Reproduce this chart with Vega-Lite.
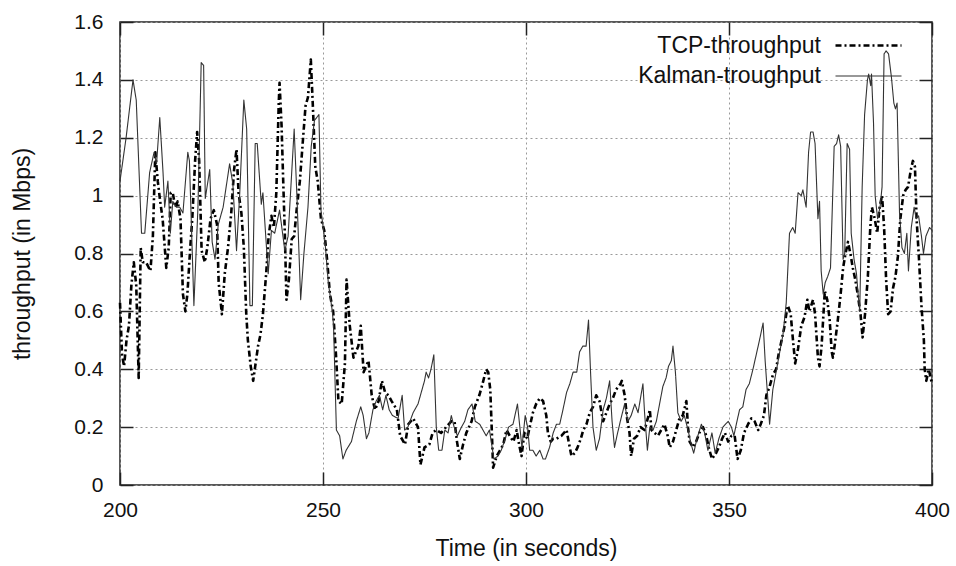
{
"$schema":"https://vega.github.io/schema/vega-lite/v6.json",
"width":812,"height":463,
"autosize":{"type":"none"},
"padding":{"left":120,"top":22,"right":24,"bottom":81},
"background":"white",
"config":{
"view":{"stroke":"#222","strokeWidth":1.5},
"font":"Liberation Sans",
"axis":{"labelFont":"Liberation Sans","titleFont":"Liberation Sans","labelFontSize":21,"titleFontSize":23,"titleFontWeight":"normal","labelColor":"#111","titleColor":"#111","domain":false,"tickColor":"#222","tickWidth":1.5,"gridColor":"#999","gridDash":[2,3],"gridWidth":1,"gridOpacity":1,"labelFlush":false},
"legend":{"orient":"none","legendX":732,"legendY":7,"title":null,"symbolType":"M-3,0H3","symbolSize":484,"labelOffset":-60,"labelAlign":"right","labelFontSize":23,"labelFont":"Liberation Sans","labelColor":"#111","labelLimit":300,"rowPadding":6,"padding":4}
},
"datasets":{"d":[
{"s":"K","t":200,"v":1.05},{"s":"K","t":201.5,"v":1.2},{"s":"K","t":203.2,"v":1.4},{"s":"K","t":204,"v":1.33},{"s":"K","t":205.3,"v":0.87},{"s":"K","t":206.1,"v":0.87},{"s":"K","t":207.3,"v":1.08},{"s":"K","t":208.4,"v":1.15},{"s":"K","t":209,"v":1.11},{"s":"K","t":209.8,"v":1.27},{"s":"K","t":210.6,"v":1.08},{"s":"K","t":211,"v":0.96},{"s":"K","t":211.8,"v":1.05},{"s":"K","t":212.4,"v":0.87},{"s":"K","t":213,"v":0.98},{"s":"K","t":213.9,"v":0.96},{"s":"K","t":214.7,"v":0.96},{"s":"K","t":215.5,"v":0.94},{"s":"K","t":216.7,"v":1.15},{"s":"K","t":217.1,"v":1.12},{"s":"K","t":218.2,"v":0.62},{"s":"K","t":219.2,"v":0.96},{"s":"K","t":220,"v":1.46},{"s":"K","t":220.6,"v":1.45},{"s":"K","t":221,"v":0.99},{"s":"K","t":222.1,"v":1.09},{"s":"K","t":222.7,"v":0.84},{"s":"K","t":223.4,"v":0.78},{"s":"K","t":224.2,"v":0.9},{"s":"K","t":225.4,"v":0.96},{"s":"K","t":227,"v":1.11},{"s":"K","t":227.8,"v":1.04},{"s":"K","t":228.7,"v":0.81},{"s":"K","t":229.5,"v":1.01},{"s":"K","t":230.5,"v":1.33},{"s":"K","t":231.2,"v":1.23},{"s":"K","t":232,"v":0.62},{"s":"K","t":232.6,"v":0.62},{"s":"K","t":233.3,"v":1.18},{"s":"K","t":233.8,"v":1.18},{"s":"K","t":234.8,"v":0.97},{"s":"K","t":235.2,"v":1.01},{"s":"K","t":236.5,"v":0.73},{"s":"K","t":237.3,"v":0.88},{"s":"K","t":238.1,"v":0.87},{"s":"K","t":239.3,"v":0.95},{"s":"K","t":240.6,"v":0.81},{"s":"K","t":241.4,"v":0.86},{"s":"K","t":242.9,"v":1.23},{"s":"K","t":243.6,"v":0.99},{"s":"K","t":244.5,"v":0.64},{"s":"K","t":245.3,"v":0.8},{"s":"K","t":246.3,"v":0.96},{"s":"K","t":247.1,"v":1.17},{"s":"K","t":247.9,"v":1.26},{"s":"K","t":249,"v":1.28},{"s":"K","t":249.5,"v":0.95},{"s":"K","t":250.5,"v":0.84},{"s":"K","t":251.3,"v":0.7},{"s":"K","t":252.3,"v":0.6},{"s":"K","t":252.6,"v":0.55},{"s":"K","t":253.3,"v":0.19},{"s":"K","t":254.1,"v":0.17},{"s":"K","t":254.9,"v":0.09},{"s":"K","t":255.7,"v":0.12},{"s":"K","t":257,"v":0.15},{"s":"K","t":258.2,"v":0.22},{"s":"K","t":259.3,"v":0.27},{"s":"K","t":259.9,"v":0.24},{"s":"K","t":260.7,"v":0.16},{"s":"K","t":261.3,"v":0.18},{"s":"K","t":262.3,"v":0.26},{"s":"K","t":263.1,"v":0.29},{"s":"K","t":263.9,"v":0.31},{"s":"K","t":264.7,"v":0.26},{"s":"K","t":265.5,"v":0.31},{"s":"K","t":266.3,"v":0.26},{"s":"K","t":267.1,"v":0.24},{"s":"K","t":268.5,"v":0.23},{"s":"K","t":269.5,"v":0.31},{"s":"K","t":270.1,"v":0.19},{"s":"K","t":270.9,"v":0.2},{"s":"K","t":272.2,"v":0.25},{"s":"K","t":273.4,"v":0.28},{"s":"K","t":274.2,"v":0.32},{"s":"K","t":275,"v":0.36},{"s":"K","t":275.4,"v":0.39},{"s":"K","t":276,"v":0.37},{"s":"K","t":276.6,"v":0.4},{"s":"K","t":277.3,"v":0.45},{"s":"K","t":277.9,"v":0.2},{"s":"K","t":278.5,"v":0.12},{"s":"K","t":279.3,"v":0.12},{"s":"K","t":280,"v":0.19},{"s":"K","t":280.8,"v":0.18},{"s":"K","t":281.6,"v":0.24},{"s":"K","t":282.3,"v":0.2},{"s":"K","t":283.1,"v":0.17},{"s":"K","t":284.1,"v":0.2},{"s":"K","t":284.9,"v":0.22},{"s":"K","t":285.7,"v":0.26},{"s":"K","t":286.7,"v":0.28},{"s":"K","t":287.5,"v":0.22},{"s":"K","t":288.6,"v":0.21},{"s":"K","t":289.4,"v":0.19},{"s":"K","t":290.2,"v":0.17},{"s":"K","t":291,"v":0.19},{"s":"K","t":292.1,"v":0.09},{"s":"K","t":293.1,"v":0.1},{"s":"K","t":293.9,"v":0.12},{"s":"K","t":294.9,"v":0.16},{"s":"K","t":295.7,"v":0.2},{"s":"K","t":296.8,"v":0.21},{"s":"K","t":297.9,"v":0.28},{"s":"K","t":299,"v":0.13},{"s":"K","t":299.8,"v":0.24},{"s":"K","t":300.4,"v":0.2},{"s":"K","t":300.9,"v":0.12},{"s":"K","t":301.7,"v":0.12},{"s":"K","t":302.5,"v":0.1},{"s":"K","t":303.4,"v":0.12},{"s":"K","t":304.2,"v":0.09},{"s":"K","t":304.8,"v":0.09},{"s":"K","t":305.8,"v":0.13},{"s":"K","t":306.7,"v":0.18},{"s":"K","t":307.5,"v":0.21},{"s":"K","t":308.3,"v":0.21},{"s":"K","t":309.1,"v":0.26},{"s":"K","t":310,"v":0.32},{"s":"K","t":310.8,"v":0.35},{"s":"K","t":311.6,"v":0.39},{"s":"K","t":312.5,"v":0.39},{"s":"K","t":313.2,"v":0.46},{"s":"K","t":314,"v":0.48},{"s":"K","t":314.8,"v":0.48},{"s":"K","t":315.4,"v":0.57},{"s":"K","t":315.9,"v":0.39},{"s":"K","t":316.5,"v":0.2},{"s":"K","t":317.3,"v":0.12},{"s":"K","t":318.1,"v":0.16},{"s":"K","t":319,"v":0.26},{"s":"K","t":319.8,"v":0.3},{"s":"K","t":320.6,"v":0.36},{"s":"K","t":321.2,"v":0.22},{"s":"K","t":321.8,"v":0.13},{"s":"K","t":322.4,"v":0.17},{"s":"K","t":323.4,"v":0.23},{"s":"K","t":324.3,"v":0.28},{"s":"K","t":325.1,"v":0.22},{"s":"K","t":325.9,"v":0.24},{"s":"K","t":326.8,"v":0.28},{"s":"K","t":327.6,"v":0.25},{"s":"K","t":328.8,"v":0.35},{"s":"K","t":329.2,"v":0.25},{"s":"K","t":329.9,"v":0.12},{"s":"K","t":330.5,"v":0.2},{"s":"K","t":331.3,"v":0.19},{"s":"K","t":332.1,"v":0.22},{"s":"K","t":332.9,"v":0.28},{"s":"K","t":333.7,"v":0.34},{"s":"K","t":334.5,"v":0.37},{"s":"K","t":335.1,"v":0.41},{"s":"K","t":335.8,"v":0.43},{"s":"K","t":336.2,"v":0.48},{"s":"K","t":336.8,"v":0.39},{"s":"K","t":337.4,"v":0.25},{"s":"K","t":338.2,"v":0.22},{"s":"K","t":339,"v":0.24},{"s":"K","t":339.9,"v":0.19},{"s":"K","t":340.7,"v":0.14},{"s":"K","t":341.3,"v":0.11},{"s":"K","t":342.1,"v":0.16},{"s":"K","t":343.2,"v":0.21},{"s":"K","t":344,"v":0.18},{"s":"K","t":344.8,"v":0.12},{"s":"K","t":345.8,"v":0.18},{"s":"K","t":346.6,"v":0.11},{"s":"K","t":347.5,"v":0.16},{"s":"K","t":348.5,"v":0.2},{"s":"K","t":349.8,"v":0.22},{"s":"K","t":350.6,"v":0.2},{"s":"K","t":351.2,"v":0.17},{"s":"K","t":351.8,"v":0.21},{"s":"K","t":352.6,"v":0.26},{"s":"K","t":353.4,"v":0.27},{"s":"K","t":354.2,"v":0.33},{"s":"K","t":355,"v":0.35},{"s":"K","t":355.9,"v":0.4},{"s":"K","t":356.7,"v":0.45},{"s":"K","t":357.5,"v":0.5},{"s":"K","t":358.4,"v":0.56},{"s":"K","t":358.9,"v":0.43},{"s":"K","t":359.6,"v":0.29},{"s":"K","t":360,"v":0.21},{"s":"K","t":360.8,"v":0.33},{"s":"K","t":361.6,"v":0.39},{"s":"K","t":362.5,"v":0.46},{"s":"K","t":363.3,"v":0.52},{"s":"K","t":364.1,"v":0.63},{"s":"K","t":364.9,"v":0.87},{"s":"K","t":365.7,"v":0.89},{"s":"K","t":366.3,"v":0.87},{"s":"K","t":367,"v":1.01},{"s":"K","t":367.8,"v":1},{"s":"K","t":368.2,"v":1.02},{"s":"K","t":369,"v":0.96},{"s":"K","t":369.6,"v":1.15},{"s":"K","t":370.1,"v":1.22},{"s":"K","t":370.7,"v":1.22},{"s":"K","t":371.2,"v":1.18},{"s":"K","t":371.9,"v":0.92},{"s":"K","t":372.3,"v":0.98},{"s":"K","t":372.7,"v":0.74},{"s":"K","t":373.2,"v":0.66},{"s":"K","t":373.7,"v":0.7},{"s":"K","t":374.3,"v":0.72},{"s":"K","t":375,"v":0.75},{"s":"K","t":375.9,"v":1.17},{"s":"K","t":376.5,"v":1.18},{"s":"K","t":377,"v":1.21},{"s":"K","t":377.5,"v":1.17},{"s":"K","t":378.1,"v":0.78},{"s":"K","t":378.5,"v":0.8},{"s":"K","t":379.1,"v":1.18},{"s":"K","t":379.7,"v":1.16},{"s":"K","t":380.1,"v":0.87},{"s":"K","t":380.8,"v":0.78},{"s":"K","t":381.4,"v":0.73},{"s":"K","t":381.8,"v":0.66},{"s":"K","t":382.2,"v":0.6},{"s":"K","t":382.8,"v":1.03},{"s":"K","t":383.4,"v":1.28},{"s":"K","t":384.1,"v":1.4},{"s":"K","t":384.4,"v":1.42},{"s":"K","t":384.9,"v":1.38},{"s":"K","t":385.1,"v":1.42},{"s":"K","t":385.6,"v":1.25},{"s":"K","t":386,"v":1},{"s":"K","t":386.6,"v":0.92},{"s":"K","t":387.2,"v":0.96},{"s":"K","t":387.7,"v":1.03},{"s":"K","t":388.2,"v":1.49},{"s":"K","t":388.7,"v":1.5},{"s":"K","t":389.3,"v":1.49},{"s":"K","t":390,"v":1.41},{"s":"K","t":390.6,"v":1.32},{"s":"K","t":391,"v":1.3},{"s":"K","t":391.4,"v":1.32},{"s":"K","t":392,"v":0.94},{"s":"K","t":392.6,"v":0.82},{"s":"K","t":393.2,"v":0.8},{"s":"K","t":393.8,"v":0.87},{"s":"K","t":394.2,"v":0.74},{"s":"K","t":394.9,"v":0.89},{"s":"K","t":395.6,"v":0.96},{"s":"K","t":396.1,"v":0.92},{"s":"K","t":396.7,"v":0.93},{"s":"K","t":397.4,"v":0.86},{"s":"K","t":397.9,"v":0.8},{"s":"K","t":398.5,"v":0.86},{"s":"K","t":399.4,"v":0.89},{"s":"K","t":400,"v":0.88},
{"s":"T","t":200,"v":0.63},{"s":"T","t":200.5,"v":0.45},{"s":"T","t":201,"v":0.41},{"s":"T","t":201.6,"v":0.5},{"s":"T","t":202.2,"v":0.55},{"s":"T","t":202.8,"v":0.69},{"s":"T","t":203.4,"v":0.77},{"s":"T","t":204,"v":0.69},{"s":"T","t":204.6,"v":0.37},{"s":"T","t":205.1,"v":0.82},{"s":"T","t":205.6,"v":0.77},{"s":"T","t":206.4,"v":0.77},{"s":"T","t":207.5,"v":0.74},{"s":"T","t":208.1,"v":0.86},{"s":"T","t":208.7,"v":1.15},{"s":"T","t":209.3,"v":1.05},{"s":"T","t":209.9,"v":0.98},{"s":"T","t":210.5,"v":0.92},{"s":"T","t":211.4,"v":0.75},{"s":"T","t":212,"v":0.82},{"s":"T","t":212.5,"v":1.01},{"s":"T","t":213,"v":1.01},{"s":"T","t":213.6,"v":0.96},{"s":"T","t":214.2,"v":0.98},{"s":"T","t":214.9,"v":0.92},{"s":"T","t":215.5,"v":0.66},{"s":"T","t":216.1,"v":0.6},{"s":"T","t":216.6,"v":0.66},{"s":"T","t":217.3,"v":0.82},{"s":"T","t":217.8,"v":0.92},{"s":"T","t":218.5,"v":1.12},{"s":"T","t":219,"v":1.22},{"s":"T","t":219.5,"v":1.12},{"s":"T","t":220.1,"v":0.81},{"s":"T","t":220.9,"v":0.77},{"s":"T","t":221.5,"v":0.82},{"s":"T","t":222.3,"v":0.92},{"s":"T","t":223.1,"v":0.95},{"s":"T","t":223.9,"v":0.9},{"s":"T","t":224.3,"v":0.7},{"s":"T","t":225.1,"v":0.59},{"s":"T","t":225.8,"v":0.73},{"s":"T","t":226.6,"v":0.82},{"s":"T","t":227.4,"v":0.94},{"s":"T","t":228.1,"v":1.09},{"s":"T","t":228.7,"v":1.16},{"s":"T","t":229.2,"v":1.01},{"s":"T","t":229.9,"v":0.94},{"s":"T","t":230.5,"v":0.82},{"s":"T","t":231.1,"v":0.59},{"s":"T","t":231.5,"v":0.5},{"s":"T","t":232.2,"v":0.41},{"s":"T","t":232.8,"v":0.36},{"s":"T","t":233.3,"v":0.41},{"s":"T","t":234,"v":0.48},{"s":"T","t":234.6,"v":0.52},{"s":"T","t":235.2,"v":0.59},{"s":"T","t":236,"v":0.73},{"s":"T","t":236.6,"v":0.86},{"s":"T","t":237.3,"v":0.93},{"s":"T","t":237.9,"v":0.89},{"s":"T","t":238.5,"v":1.01},{"s":"T","t":239.1,"v":1.32},{"s":"T","t":239.3,"v":1.39},{"s":"T","t":239.8,"v":1.24},{"s":"T","t":240.2,"v":1.05},{"s":"T","t":240.6,"v":0.87},{"s":"T","t":241,"v":0.64},{"s":"T","t":241.6,"v":0.71},{"s":"T","t":242.3,"v":0.85},{"s":"T","t":242.9,"v":0.86},{"s":"T","t":243.5,"v":0.95},{"s":"T","t":244.3,"v":1.05},{"s":"T","t":245.1,"v":1.2},{"s":"T","t":245.7,"v":1.31},{"s":"T","t":246.3,"v":1.34},{"s":"T","t":247,"v":1.47},{"s":"T","t":247.5,"v":1.31},{"s":"T","t":248.1,"v":1.1},{"s":"T","t":248.7,"v":1.05},{"s":"T","t":249.5,"v":0.92},{"s":"T","t":250.3,"v":0.88},{"s":"T","t":251,"v":0.78},{"s":"T","t":251.7,"v":0.66},{"s":"T","t":252.5,"v":0.6},{"s":"T","t":253.2,"v":0.45},{"s":"T","t":253.8,"v":0.29},{"s":"T","t":254.6,"v":0.28},{"s":"T","t":255.4,"v":0.42},{"s":"T","t":255.8,"v":0.71},{"s":"T","t":256.6,"v":0.55},{"s":"T","t":257.5,"v":0.44},{"s":"T","t":258.7,"v":0.48},{"s":"T","t":259.3,"v":0.55},{"s":"T","t":260,"v":0.39},{"s":"T","t":261.2,"v":0.43},{"s":"T","t":262,"v":0.31},{"s":"T","t":262.8,"v":0.26},{"s":"T","t":263.7,"v":0.29},{"s":"T","t":264.5,"v":0.36},{"s":"T","t":265.3,"v":0.32},{"s":"T","t":266.1,"v":0.31},{"s":"T","t":266.9,"v":0.29},{"s":"T","t":268.2,"v":0.26},{"s":"T","t":269,"v":0.17},{"s":"T","t":270.2,"v":0.14},{"s":"T","t":271,"v":0.21},{"s":"T","t":272.2,"v":0.23},{"s":"T","t":273.4,"v":0.2},{"s":"T","t":274,"v":0.07},{"s":"T","t":275,"v":0.13},{"s":"T","t":276.2,"v":0.14},{"s":"T","t":277,"v":0.18},{"s":"T","t":277.9,"v":0.19},{"s":"T","t":279.1,"v":0.18},{"s":"T","t":280.3,"v":0.2},{"s":"T","t":281.6,"v":0.22},{"s":"T","t":282.4,"v":0.22},{"s":"T","t":283,"v":0.15},{"s":"T","t":283.7,"v":0.09},{"s":"T","t":284.5,"v":0.14},{"s":"T","t":285.3,"v":0.18},{"s":"T","t":286.6,"v":0.22},{"s":"T","t":287.4,"v":0.27},{"s":"T","t":288.5,"v":0.31},{"s":"T","t":289.3,"v":0.35},{"s":"T","t":290.2,"v":0.4},{"s":"T","t":290.7,"v":0.39},{"s":"T","t":291.2,"v":0.33},{"s":"T","t":291.6,"v":0.18},{"s":"T","t":291.9,"v":0.06},{"s":"T","t":292.8,"v":0.1},{"s":"T","t":293.6,"v":0.12},{"s":"T","t":294.4,"v":0.14},{"s":"T","t":295.2,"v":0.19},{"s":"T","t":296,"v":0.17},{"s":"T","t":296.9,"v":0.15},{"s":"T","t":297.7,"v":0.19},{"s":"T","t":298.3,"v":0.14},{"s":"T","t":298.9,"v":0.1},{"s":"T","t":299.6,"v":0.18},{"s":"T","t":300.3,"v":0.16},{"s":"T","t":300.9,"v":0.2},{"s":"T","t":301.7,"v":0.25},{"s":"T","t":302.5,"v":0.28},{"s":"T","t":303.4,"v":0.3},{"s":"T","t":304.2,"v":0.29},{"s":"T","t":305,"v":0.24},{"s":"T","t":305.4,"v":0.18},{"s":"T","t":306.1,"v":0.15},{"s":"T","t":306.7,"v":0.16},{"s":"T","t":307.5,"v":0.16},{"s":"T","t":308.7,"v":0.17},{"s":"T","t":310,"v":0.19},{"s":"T","t":310.5,"v":0.15},{"s":"T","t":311.2,"v":0.1},{"s":"T","t":312,"v":0.11},{"s":"T","t":312.7,"v":0.13},{"s":"T","t":313.5,"v":0.16},{"s":"T","t":314.1,"v":0.19},{"s":"T","t":314.9,"v":0.21},{"s":"T","t":315.7,"v":0.25},{"s":"T","t":316.5,"v":0.27},{"s":"T","t":317.3,"v":0.31},{"s":"T","t":318.1,"v":0.29},{"s":"T","t":319,"v":0.22},{"s":"T","t":319.8,"v":0.25},{"s":"T","t":320.6,"v":0.28},{"s":"T","t":321.4,"v":0.3},{"s":"T","t":322.2,"v":0.33},{"s":"T","t":323.3,"v":0.35},{"s":"T","t":323.6,"v":0.36},{"s":"T","t":324.3,"v":0.31},{"s":"T","t":324.9,"v":0.23},{"s":"T","t":325.5,"v":0.18},{"s":"T","t":325.9,"v":0.1},{"s":"T","t":326.6,"v":0.16},{"s":"T","t":327.4,"v":0.17},{"s":"T","t":328.2,"v":0.2},{"s":"T","t":329.2,"v":0.19},{"s":"T","t":330,"v":0.23},{"s":"T","t":330.5,"v":0.26},{"s":"T","t":330.9,"v":0.19},{"s":"T","t":331.7,"v":0.18},{"s":"T","t":332.5,"v":0.17},{"s":"T","t":333.3,"v":0.19},{"s":"T","t":334.1,"v":0.21},{"s":"T","t":334.9,"v":0.17},{"s":"T","t":335.4,"v":0.13},{"s":"T","t":336.2,"v":0.15},{"s":"T","t":337,"v":0.19},{"s":"T","t":337.8,"v":0.23},{"s":"T","t":338.6,"v":0.24},{"s":"T","t":339.5,"v":0.29},{"s":"T","t":339.9,"v":0.2},{"s":"T","t":340.3,"v":0.15},{"s":"T","t":341.1,"v":0.13},{"s":"T","t":341.9,"v":0.15},{"s":"T","t":342.7,"v":0.18},{"s":"T","t":343.6,"v":0.2},{"s":"T","t":344.4,"v":0.17},{"s":"T","t":345,"v":0.13},{"s":"T","t":345.8,"v":0.09},{"s":"T","t":346.8,"v":0.11},{"s":"T","t":347.5,"v":0.13},{"s":"T","t":348.3,"v":0.16},{"s":"T","t":349,"v":0.18},{"s":"T","t":349.8,"v":0.15},{"s":"T","t":350.6,"v":0.17},{"s":"T","t":351.4,"v":0.17},{"s":"T","t":352.1,"v":0.09},{"s":"T","t":352.9,"v":0.12},{"s":"T","t":353.7,"v":0.18},{"s":"T","t":354.7,"v":0.21},{"s":"T","t":355.5,"v":0.23},{"s":"T","t":356.3,"v":0.22},{"s":"T","t":357.2,"v":0.19},{"s":"T","t":357.8,"v":0.21},{"s":"T","t":358.6,"v":0.24},{"s":"T","t":359.2,"v":0.31},{"s":"T","t":360,"v":0.34},{"s":"T","t":360.8,"v":0.38},{"s":"T","t":361.6,"v":0.4},{"s":"T","t":362.2,"v":0.45},{"s":"T","t":363.1,"v":0.51},{"s":"T","t":363.7,"v":0.55},{"s":"T","t":364.1,"v":0.59},{"s":"T","t":364.5,"v":0.62},{"s":"T","t":365.2,"v":0.59},{"s":"T","t":365.7,"v":0.51},{"s":"T","t":366.3,"v":0.42},{"s":"T","t":367,"v":0.47},{"s":"T","t":367.8,"v":0.55},{"s":"T","t":368.6,"v":0.58},{"s":"T","t":369.3,"v":0.64},{"s":"T","t":369.8,"v":0.6},{"s":"T","t":370.7,"v":0.64},{"s":"T","t":371.2,"v":0.59},{"s":"T","t":371.9,"v":0.44},{"s":"T","t":372.3,"v":0.41},{"s":"T","t":372.8,"v":0.48},{"s":"T","t":373.6,"v":0.67},{"s":"T","t":374.2,"v":0.64},{"s":"T","t":374.8,"v":0.57},{"s":"T","t":375.3,"v":0.46},{"s":"T","t":375.6,"v":0.44},{"s":"T","t":376.1,"v":0.49},{"s":"T","t":376.8,"v":0.57},{"s":"T","t":377.5,"v":0.66},{"s":"T","t":378.1,"v":0.75},{"s":"T","t":378.7,"v":0.8},{"s":"T","t":379.3,"v":0.84},{"s":"T","t":379.9,"v":0.8},{"s":"T","t":380.5,"v":0.75},{"s":"T","t":381.1,"v":0.71},{"s":"T","t":381.7,"v":0.66},{"s":"T","t":382.4,"v":0.59},{"s":"T","t":382.9,"v":0.51},{"s":"T","t":383.5,"v":0.59},{"s":"T","t":384.2,"v":0.72},{"s":"T","t":384.8,"v":0.89},{"s":"T","t":385.2,"v":0.96},{"s":"T","t":385.9,"v":0.92},{"s":"T","t":386.5,"v":0.87},{"s":"T","t":387.1,"v":0.96},{"s":"T","t":387.7,"v":1},{"s":"T","t":388.2,"v":0.89},{"s":"T","t":388.7,"v":0.71},{"s":"T","t":389.2,"v":0.59},{"s":"T","t":389.8,"v":0.6},{"s":"T","t":390.4,"v":0.68},{"s":"T","t":391,"v":0.72},{"s":"T","t":391.6,"v":0.79},{"s":"T","t":392.2,"v":0.92},{"s":"T","t":392.9,"v":1},{"s":"T","t":393.5,"v":1.02},{"s":"T","t":394.1,"v":1.03},{"s":"T","t":394.8,"v":1.09},{"s":"T","t":395.3,"v":1.12},{"s":"T","t":395.8,"v":1.1},{"s":"T","t":396.2,"v":0.92},{"s":"T","t":396.8,"v":0.78},{"s":"T","t":397.4,"v":0.62},{"s":"T","t":398,"v":0.5},{"s":"T","t":398.2,"v":0.4},{"s":"T","t":398.6,"v":0.36},{"s":"T","t":399.2,"v":0.4},{"s":"T","t":400,"v":0.35}
]},
"data":{"name":"d"},
"layer":[
{"transform":[{"filter":"datum.s=='T'"}],
"mark":{"type":"line","strokeJoin":"round"},
"encoding":{
"x":{"field":"t","type":"quantitative","scale":{"domain":[200,400],"nice":false,"zero":false},"axis":{"orient":"bottom","values":[200,250,300,350,400],"tickSize":-13,"labelPadding":27,"grid":true,"title":"Time (in seconds)","titlePadding":17}},
"y":{"field":"v","type":"quantitative","scale":{"domain":[0,1.6],"nice":false},"axis":{"orient":"left","values":[0,0.2,0.4,0.6,0.8,1,1.2,1.4,1.6],"format":"~g","tickSize":-13,"labelPadding":30,"grid":true,"title":"throughput (in Mbps)","titlePadding":39}},
"strokeDash":{"field":"s","type":"nominal","scale":{"domain":["T","K"],"range":[[6,3,2,3],[1,0]]},"legend":{"labelExpr":"datum.label == 'T' ? 'TCP-throughput' : 'Kalman-troughput'"}},
"color":{"field":"s","type":"nominal","scale":{"domain":["T","K"],"range":["#000000","#333333"]}},
"strokeWidth":{"field":"s","type":"nominal","scale":{"domain":["T","K"],"range":[2.6,1.1]}},
"order":{"field":"t","type":"quantitative"}
}},
{"transform":[{"filter":"datum.s=='K'"}],
"mark":{"type":"line","strokeJoin":"round"},
"encoding":{
"x":{"field":"t","type":"quantitative","scale":{"domain":[200,400],"nice":false,"zero":false},"axis":{"orient":"top","values":[200,250,300,350,400],"tickSize":-13,"labels":false,"grid":false,"title":null}},
"y":{"field":"v","type":"quantitative","scale":{"domain":[0,1.6],"nice":false},"axis":{"orient":"right","values":[0,0.2,0.4,0.6,0.8,1,1.2,1.4,1.6],"tickSize":-13,"labels":false,"grid":false,"title":null}},
"strokeDash":{"field":"s","type":"nominal","scale":{"domain":["T","K"],"range":[[6,3,2,3],[1,0]]}},
"color":{"field":"s","type":"nominal","scale":{"domain":["T","K"],"range":["#000000","#333333"]}},
"strokeWidth":{"field":"s","type":"nominal","scale":{"domain":["T","K"],"range":[2.6,1.1]}},
"order":{"field":"t","type":"quantitative"}
}}
],
"resolve":{"axis":{"x":"independent","y":"independent"}}
}
